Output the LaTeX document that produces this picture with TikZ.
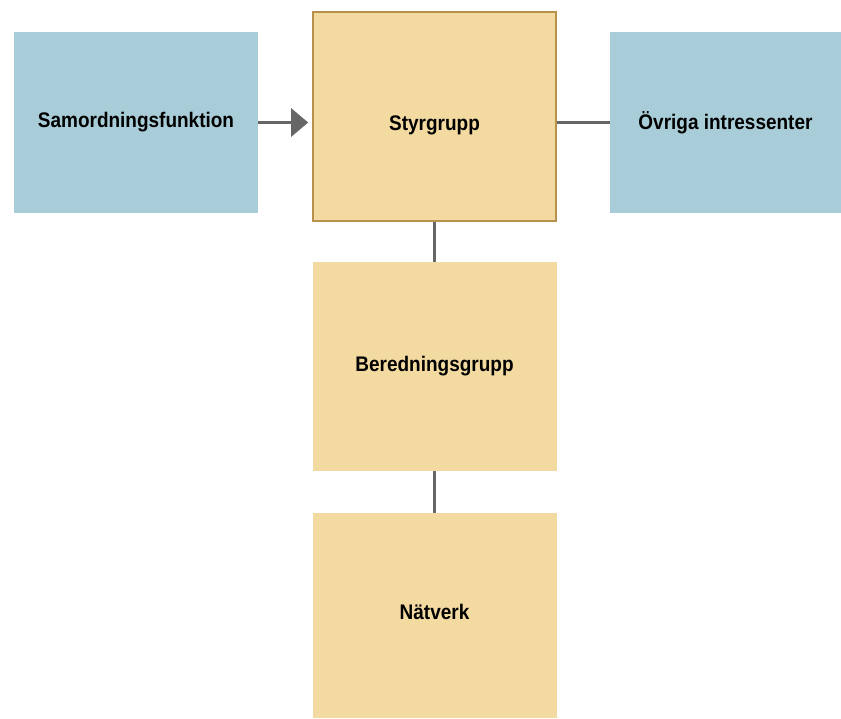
\documentclass[tikz,border=0pt]{standalone}
\usepackage{fontspec}
\setmainfont{Liberation Sans}
\newfontfamily\labelfont[FakeStretch=0.9]{Liberation Sans}
\usetikzlibrary{arrows.meta}
\usetikzlibrary{positioning}

\definecolor{boxblue}{HTML}{A9CDD8}
\definecolor{boxyellow}{HTML}{F3DAA1}
\definecolor{boxedge}{HTML}{B8924C}
\definecolor{linkgray}{HTML}{666666}

\tikzset{
  bluebox/.style={fill=boxblue,draw=none,inner sep=0pt,minimum width=244*0.03cm,minimum height=181*0.03cm,font=\labelfont\bfseries\fontsize{18}{20}\selectfont},
  yellowbox/.style={fill=boxyellow,draw=none,inner sep=0pt,minimum width=244*0.03cm,minimum height=209*0.03cm,font=\labelfont\bfseries\fontsize{18}{20}\selectfont},
  link/.style={draw=linkgray,line width=2.4pt}
}

\begin{document}
\begin{tikzpicture}[x=0.03cm,y=-0.03cm]

% white background fixes the margins
\useasboundingbox [fill=white] (0,0) rectangle (841,718);

% boxes
\node [yellowbox,draw=boxedge,line width=1.4pt,minimum width=243*0.03cm,minimum height=209*0.03cm] (styr) at (434.5,116.5) {\raisebox{-12pt}[0pt][0pt]{Styrgrupp}};
\node [bluebox] (samord) at (136,122.5) {Samordningsfunktion};
\node [bluebox,minimum width=231*0.03cm] (ovriga) at (725.5,122.5) {Övriga intressenter};
\node [yellowbox] (bered) at (434.5,366.5) {Beredningsgrupp};
\node [yellowbox,minimum height=205*0.03cm] (natverk) at (434.5,615.5) {\raisebox{-3pt}[0pt][0pt]{Nätverk}};

% connectors
\draw [link,-{Triangle[length=17*0.03cm,width=28*0.03cm]},shorten >=4*0.03cm] (samord.east) -- (samord.east -| styr.west);
\draw [link] (ovriga.west -| styr.east) -- (ovriga.west);
\draw [link] (styr) -- (bered);
\draw [link] (bered) -- (natverk);

\end{tikzpicture}
\end{document}
